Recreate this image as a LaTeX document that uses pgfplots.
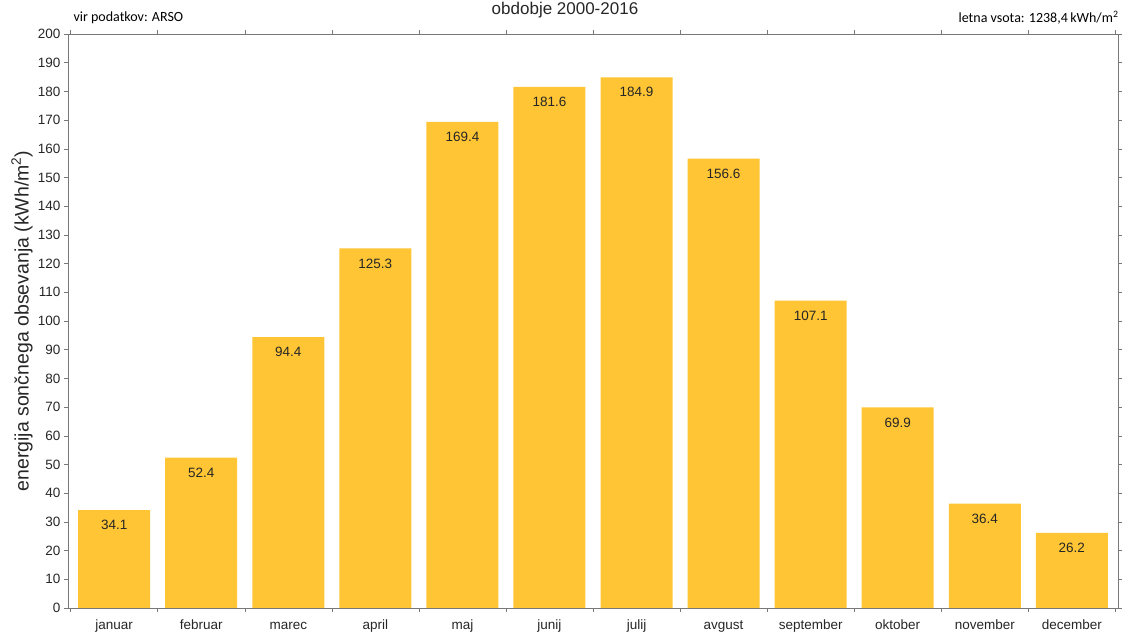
\documentclass[border=0pt]{standalone}
\usepackage{fontspec}
\setmainfont{Liberation Sans}
\newfontfamily\notefont{Carlito}
\usepackage{pgfplots}
\pgfplotsset{compat=1.18}
\definecolor{barfill}{RGB}{255,197,52}
\definecolor{axisgray}{RGB}{120,120,120}
\begin{document}
\begin{tikzpicture}[x=1pt,y=1pt]
\path[use as bounding box] (0,0) rectangle (1128,636);
\begin{axis}[
  at={(68pt,28pt)}, anchor=south west,
  scale only axis, width=1050pt, height=574pt,
  xmin=-0.53, xmax=11.53, ymin=0, ymax=200,
  ytick={0,10,...,200},
  xtick={0,...,11},
  xticklabels={januar,februar,marec,april,maj,junij,julij,avgust,september,oktober,november,december},
  minor xtick={-0.5,0.5,...,11.5},
  major x tick style={draw=none},
  minor x tick style={axisgray, thin},
  minor tick length=4pt,
  major tick length=4pt,
  tick align=outside,
  y tick style={axisgray, thin},
  axis line style={axisgray, thin},
  tick label style={font=\fontsize{13.5}{14}\selectfont, text=black!85},
  /pgf/number format/assume math mode=true,
  xticklabel style={yshift=-4pt, text height=10pt, text depth=3pt},
  ylabel={energija sončnega obsevanja (kWh/m\textsuperscript{2})},
  every axis y label/.style={at={(axis description cs:0,0.5)}, xshift=-46pt,
    rotate=90, anchor=center,
    font=\fontsize{19.5}{21}\selectfont, text=black!85},
  ybar, bar width=72pt,
  bar shift=0pt,
  nodes near coords,
  nodes near coords style={
    anchor=center, yshift=-15pt, font=\fontsize{13.5}{14}\selectfont, text=black!85,
    /pgf/number format/.cd, fixed, fixed zerofill, precision=1, use period},
  clip=false,
]
\addplot[fill=barfill, draw=none] coordinates {
  (0,34.1) (1,52.4) (2,94.4) (3,125.3) (4,169.4) (5,181.6)
  (6,184.9) (7,156.6) (8,107.1) (9,69.9) (10,36.4) (11,26.2)
};
\end{axis}
\node[font=\notefont\fontsize{14}{15}\selectfont, anchor=west] at (70,618) {vir podatkov: ARSO};
\node[font=\notefont\fontsize{14}{15}\selectfont, anchor=east] at (1122,618) {letna vsota: 1238,4\,kWh/m\textsuperscript{2}};
\node[font=\fontsize{17}{18}\selectfont, text=black!85, anchor=center] at (565,626) {obdobje 2000-2016};
\end{tikzpicture}
\end{document}
